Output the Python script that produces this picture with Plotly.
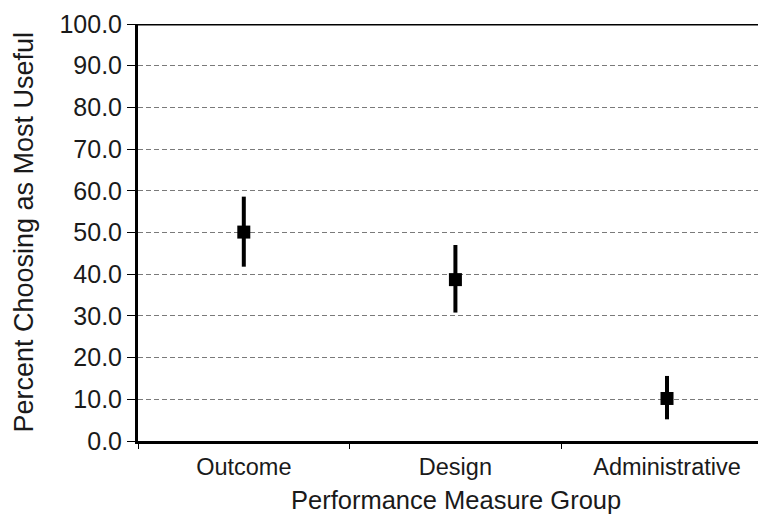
import plotly.graph_objects as go

categories = ["Outcome", "Design", "Administrative"]
percent = [50.1, 38.7, 10.2]
err_plus = [8.5, 8.3, 5.4]
err_minus = [8.3, 7.9, 5.0]
y_ticks = [0, 10, 20, 30, 40, 50, 60, 70, 80, 90, 100]
y_tick_labels = [f"{v:.1f}" for v in y_ticks]

FONT = "Arial, Liberation Sans, sans-serif"

fig = go.Figure()
fig.add_trace(go.Scatter(
    x=categories, y=percent, mode="markers",
    marker=dict(symbol="square", size=13, color="black"),
    error_y=dict(type="data", symmetric=False, array=err_plus, arrayminus=err_minus,
                 width=0, thickness=4, color="black"),
    showlegend=False,
))

fig.add_shape(type="line", xref="paper", yref="y", x0=0, x1=1, y0=100, y1=100,
              line=dict(color="black", width=3))

fig.add_annotation(text="Performance Measure Group", xref="paper", yref="paper",
                   x=0.513, y=-0.142, xanchor="center", yanchor="middle", showarrow=False,
                   font=dict(size=25.5, family=FONT, color="#1a1a1a"))
fig.add_annotation(text="Percent Choosing as Most Useful", xref="paper", yref="paper",
                   x=-0.184, y=0.502, xanchor="center", yanchor="middle", showarrow=False,
                   textangle=-90, font=dict(size=27, family=FONT, color="#1a1a1a"))

fig.update_layout(
    width=758, height=517,
    margin=dict(l=138, r=0, t=24, b=76, autoexpand=False),
    paper_bgcolor="white", plot_bgcolor="white",
    font=dict(family=FONT, color="#1a1a1a"),
    xaxis=dict(
        type="category", range=[-0.5, 2.43],
        showline=True, linecolor="black", linewidth=3, mirror=False,
        ticks="outside", tickson="boundaries", ticklen=5, tickcolor="black", tickwidth=1,
        tickfont=dict(size=23.5, family=FONT), ticklabelstandoff=3,
        showgrid=False, automargin=False,
    ),
    yaxis=dict(
        range=[0, 100],
        tickmode="array", tickvals=y_ticks, ticktext=y_tick_labels,
        showline=True, linecolor="black", linewidth=3, mirror=False,
        ticks="outside", ticklen=8, tickcolor="black", tickwidth=1,
        tickfont=dict(size=25, family=FONT),
        showgrid=True, gridcolor="#7a7a7a", gridwidth=1, griddash="5px,3px",
        zeroline=False, automargin=False,
    ),
)

fig.write_html("out.html", config={"displayModeBar": False},
               post_script="document.body.style.margin='0';document.body.style.overflow='hidden';"
                           "document.documentElement.style.overflow='hidden';")
